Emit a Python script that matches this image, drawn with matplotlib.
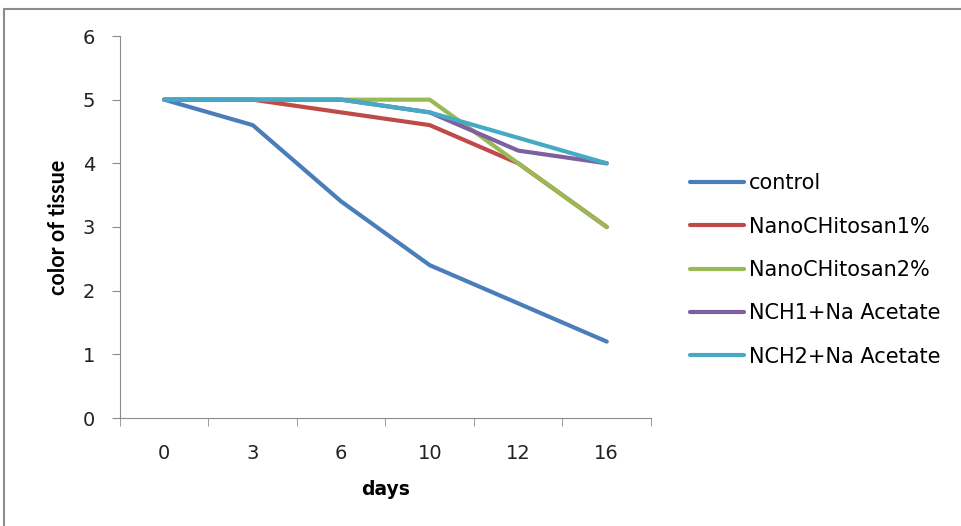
import matplotlib
matplotlib.use("Agg")
import matplotlib.pyplot as plt
from matplotlib.patches import Rectangle
from matplotlib.lines import Line2D

days = ["0", "3", "6", "10", "12", "16"]
control = [5, 4.6, 3.4, 2.4, 1.8, 1.2]
nano1 = [5, 5, 4.8, 4.6, 4.0, 3.0]
nano2 = [5, 5, 5, 5, 4.0, 3.0]
nch1_na = [5, 5, 5, 4.8, 4.2, 4.0]
nch2_na = [5, 5, 5, 4.8, 4.4, 4.0]

series = [("control", control, "#4A7EBB"),
          ("NanoCHitosan1%", nano1, "#BE4B48"),
          ("NanoCHitosan2%", nano2, "#98B954"),
          ("NCH1+Na Acetate", nch1_na, "#7D60A0"),
          ("NCH2+Na Acetate", nch2_na, "#46AAC5")]

plt.rcParams["font.family"] = ["DejaVu Sans"]
W, H = 962, 526
fig = plt.figure(figsize=(W / 100, H / 100), dpi=100)
fig.patches.append(Rectangle((4 / W, -0.1), 1.1, 1 - 9 / H + 0.1, transform=fig.transFigure,
                             fill=False, edgecolor="#8c8c8c", lw=1.5))
ax = fig.add_axes([120 / W, 1 - 418 / H, 531 / W, 382 / H])

x = list(range(len(days)))
handles = []
for name, vals, col in series:
    ax.plot(x, vals, color=col, lw=3, solid_capstyle="round", solid_joinstyle="round")
    handles.append(Line2D([], [], color=col, lw=3, solid_capstyle="round"))

ax.set_xlim(-0.5, len(days) - 0.5)
ax.set_ylim(0, 6)
ax.set_yticks(range(7))
ax.set_xticks(x)
ax.set_xticklabels(days)
ax.set_xticks([i - 0.5 for i in range(len(days) + 1)], minor=True)
ax.tick_params(axis="x", which="major", length=0, pad=19, labelsize=14, labelcolor="#222222")
ax.tick_params(axis="x", which="minor", length=6, direction="out", color="#8c8c8c")
ax.tick_params(axis="y", length=5.5, direction="out", color="#8c8c8c", labelsize=14,
               pad=12.5, labelcolor="#222222")
for s in ["top", "right"]:
    ax.spines[s].set_visible(False)
for s in ["left", "bottom"]:
    ax.spines[s].set_color("#8c8c8c")
ax.set_xlabel("days", fontsize=13.5, fontweight="bold", labelpad=12)
ax.set_ylabel("color of tissue", fontsize=15.5, fontweight="bold", labelpad=10,
              family=["Lato", "DejaVu Sans"])

fig.legend(handles, [s[0] for s in series], loc="center left",
           bbox_to_anchor=(690 / W, 1 - 270 / H), frameon=False, fontsize=15,
           borderaxespad=0, borderpad=0,
           handlelength=2.6, handletextpad=0.25, labelspacing=1.12)

fig.savefig("out.png", dpi=100)
